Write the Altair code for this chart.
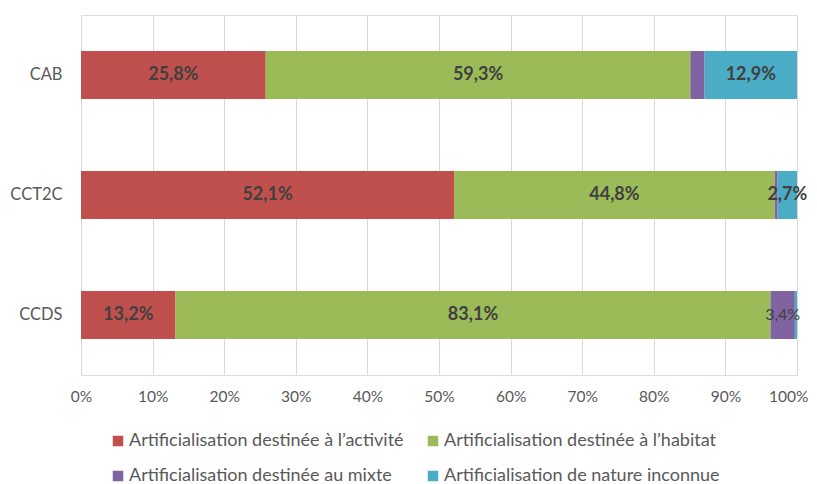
import altair as alt
import pandas as pd

categories = ["CAB", "CCT2C", "CCDS"]
series = [
    "Artificialisation destinée à l’activité",
    "Artificialisation destinée à l’habitat",
    "Artificialisation destinée au mixte",
    "Artificialisation de nature inconnue",
]
colors = ["#C0504D", "#9BBB59", "#8064A2", "#4BACC6"]
values = {
    "CAB":   [25.8, 59.3, 2.0, 12.9],
    "CCT2C": [52.1, 44.8, 0.4, 2.7],
    "CCDS":  [13.2, 83.1, 3.4, 0.3],
}
# which labels are shown, and whether bold
shown = {
    "CAB":   [True, True, False, True],
    "CCT2C": [True, True, False, True],
    "CCDS":  [True, True, True, False],
}
bold = {
    "CAB":   [True, True, True, True],
    "CCT2C": [True, True, True, True],
    "CCDS":  [True, True, False, True],
}
tick_values = [0, 10, 20, 30, 40, 50, 60, 70, 80, 90, 100]

rows = []
for c in categories:
    for i, s in enumerate(series):
        v = values[c][i]
        rows.append({
            "cat": c, "series": s, "ord": i, "value": v,
            "label": (f"{v:.1f}".replace(".", ",") + "%") if shown[c][i] else "",
            "bold": bold[c][i],
        })
df = pd.DataFrame(rows)

FONT = "Lato"
GRAY = "#595959"

base = alt.Chart(df)

y_enc = alt.Y("cat:N", sort=categories, title=None,
              scale=alt.Scale(paddingInner=0.6, paddingOuter=0.3),
              axis=alt.Axis(domain=False, ticks=False, labelPadding=19,
                            labelFontSize=16.5, labelColor=GRAY, labelFont=FONT))

bars = base.mark_bar().encode(
    x=alt.X("value:Q", stack="zero", title=None,
            scale=alt.Scale(domain=[0, 100], nice=False),
            axis=alt.Axis(values=tick_values, labelExpr="datum.value + '%'",
                          domain=False, ticks=False, grid=True, labelFlush=False,
                          labelAlign={"expr": "datum.value == 100 ? 'right' : 'center'"},
                          labelOffset={"expr": "datum.value == 100 ? 11 : 0"},
                          gridColor="#D9D9D9", gridWidth=1,
                          labelFontSize=15.5, labelColor=GRAY, labelFont=FONT,
                          labelPadding=14)),
    y=y_enc,
    color=alt.Color("series:N", sort=series,
                    scale=alt.Scale(domain=series, range=colors),
                    legend=alt.Legend(title=None, orient="none", legendX=28, legendY=417,
                                      columns=2, direction="horizontal", padding=0,
                                      symbolType="square", symbolSize=110,
                                      symbolStrokeWidth=0,
                                      labelFontSize=18, labelColor=GRAY, labelFont=FONT,
                                      labelOffset=2, columnPadding=20, rowPadding=17,
                                      labelLimit=400)),
    order=alt.Order("ord:Q"),
)

text_base = base.transform_window(
    cum="sum(value)", groupby=["cat"], sort=[alt.SortField("ord")]
).transform_calculate(
    mid="datum.cum - datum.value / 2"
)

text_bold = text_base.transform_filter("datum.bold").mark_text(
    font=FONT, fontSize=18, fontWeight="bold", color="#404040"
).encode(
    x=alt.X("mid:Q", scale=alt.Scale(domain=[0, 100], nice=False)),
    y=alt.Y("cat:N", sort=categories),
    text="label:N",
)
text_norm = text_base.transform_filter("!datum.bold").mark_text(
    font=FONT, fontSize=16, color="#404040"
).encode(
    x=alt.X("mid:Q", scale=alt.Scale(domain=[0, 100], nice=False)),
    y=alt.Y("cat:N", sort=categories),
    text="label:N",
)

chart = alt.layer(bars, text_bold, text_norm).properties(
    width=716, height=360,
    autosize=alt.AutoSizeParams(type="none"),
    padding={"left": 73, "top": 7, "right": 12, "bottom": 113},
).configure_view(stroke=None).configure(background="white")

chart.save("out.html", embed_options={"renderer": "svg", "actions": False})
